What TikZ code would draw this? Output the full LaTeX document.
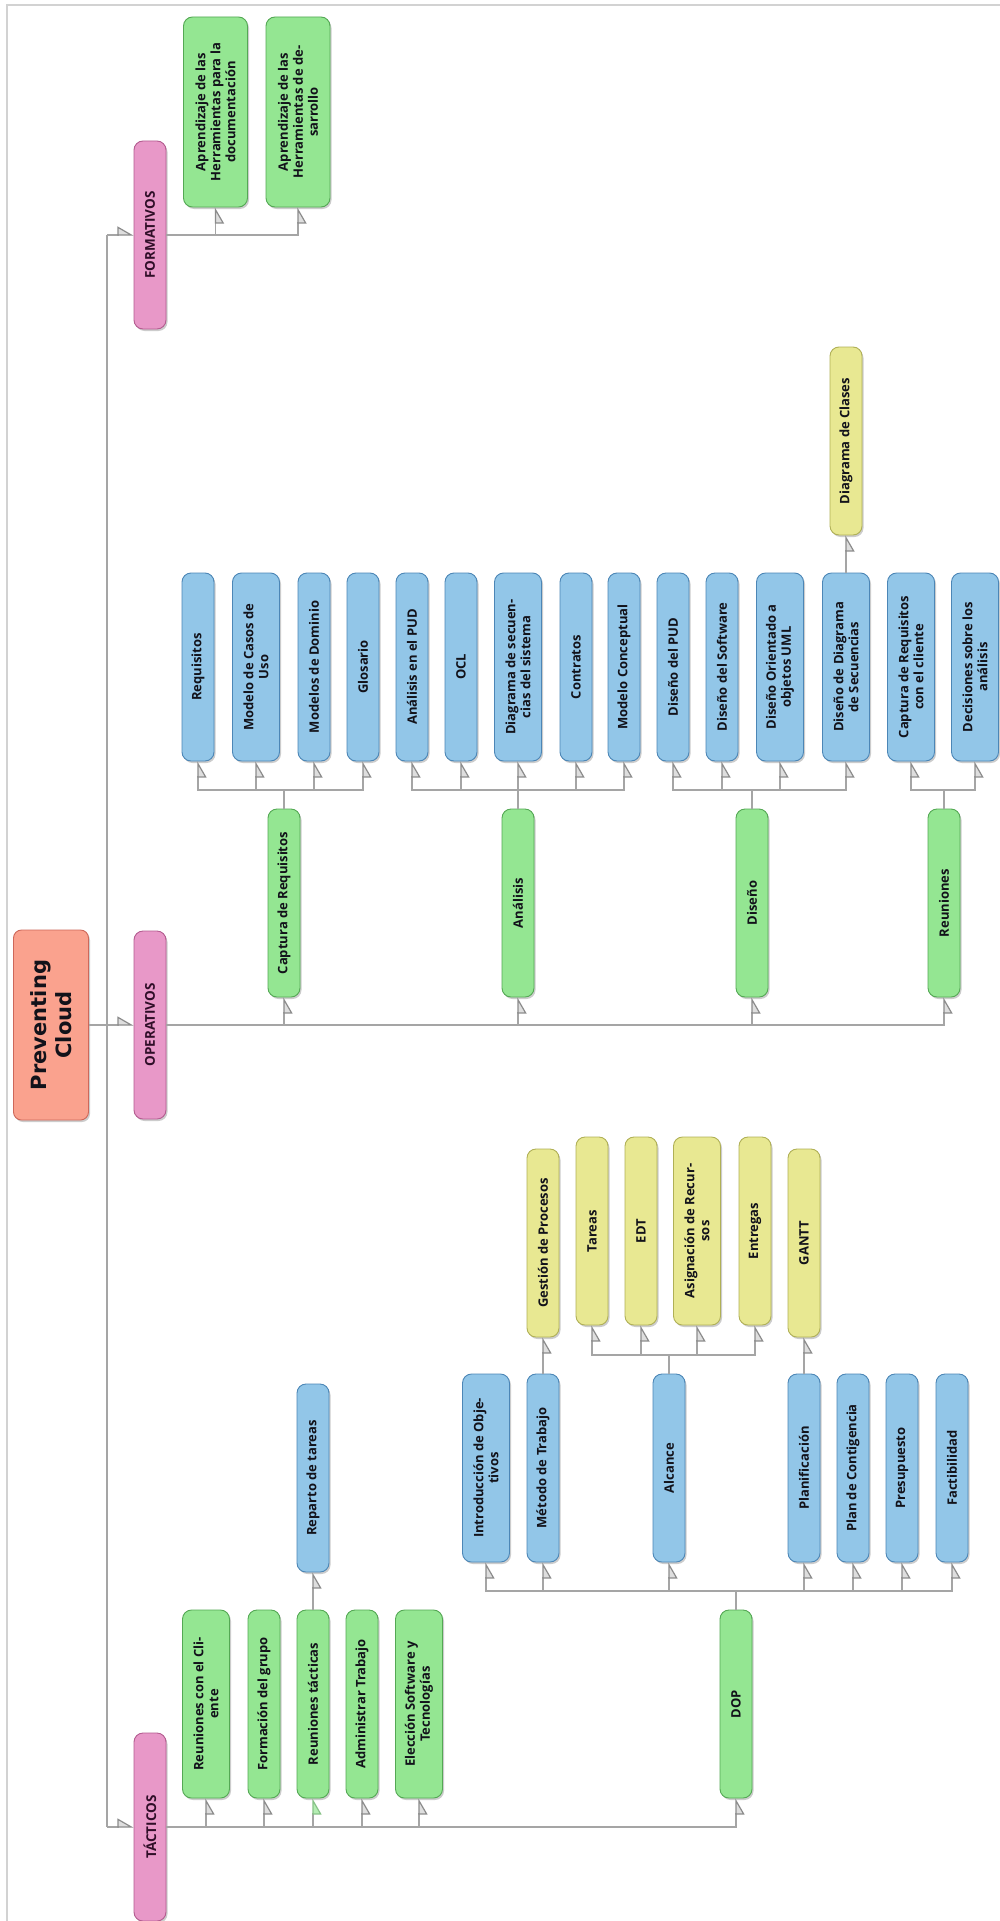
\documentclass[tikz,border=0pt]{standalone}
\usepackage{fontspec}
\setmainfont{Open Sans}
\newfontfamily\rootfont{DejaVu Sans}
\usepackage{xcolor}
\usetikzlibrary{positioning,arrows.meta,shadows}

\definecolor{rootfill}{RGB}{250,162,142}
\definecolor{rootline}{RGB}{206,104,90}
\definecolor{pinkfill}{RGB}{232,152,200}
\definecolor{pinkline}{RGB}{180,92,144}
\definecolor{pinktext}{RGB}{48,14,40}
\definecolor{greenfill}{RGB}{148,230,146}
\definecolor{greenline}{RGB}{84,168,84}
\definecolor{bluefill}{RGB}{146,198,232}
\definecolor{blueline}{RGB}{76,134,182}
\definecolor{yellowfill}{RGB}{232,232,146}
\definecolor{yellowline}{RGB}{176,176,86}
\definecolor{textdark}{RGB}{18,18,26}
\definecolor{linegray}{RGB}{165,165,165}
\definecolor{tipfill}{RGB}{222,222,222}
\definecolor{tipline}{RGB}{140,140,140}

\tikzset{
  box/.style={rounded corners=9pt, rotate=90, minimum width=188pt, minimum height=32pt,
    inner sep=2pt, align=center, line width=0.9pt, text=textdark,
    font=\fontsize{13}{15}\selectfont\bfseries,
    drop shadow={shadow xshift=1.5pt, shadow yshift=-2pt, opacity=.4}},
  two/.style={minimum height=47pt},
  three/.style={minimum height=64pt},
  rootbox/.style={box, fill=rootfill, draw=rootline, minimum width=190pt, minimum height=75pt,
    rounded corners=8pt, font=\rootfont\fontsize{21}{25}\selectfont\bfseries},
  catbox/.style={box, fill=pinkfill, draw=pinkline, text=pinktext,
    font=\fontsize{13.5}{15}\selectfont\bfseries},
  greenbox/.style={box, fill=greenfill, draw=greenline},
  bluebox/.style={box, fill=bluefill, draw=blueline},
  yellowbox/.style={box, fill=yellowfill, draw=yellowline},
  link/.style={draw=linegray, line width=1.2pt},
  arr/.style={link, -{Triangle[length=15pt, width=17pt, right, fill=tipfill, color=tipline]}},
  arrh/.style={link, -{Triangle[length=15pt, width=17pt, left, fill=tipfill, color=tipline]}},
}

\begin{document}
\begin{tikzpicture}[x=1pt, y=-1pt]
  \useasboundingbox (0,0) rectangle (1000,1921);
  \clip (0,0) rectangle (1000,1921);
  \fill[white] (0,0) rectangle (1000,1921);
  \draw[gray!35, line width=1.6pt] (7,1921) -- (7,5) -- (1000,5);

  % raiz y categorias
  \node[rootbox] (root) at (51,1025) {Preventing\\Cloud};
  \node[catbox] (form) at (150,235) {FORMATIVOS};
  \node[catbox] (oper) at (150,1025) {OPERATIVOS};
  \node[catbox] (tact) at (150,1827) {TÁCTICOS};

  % formativos
  \node[greenbox, three, minimum width=190pt] (apdoc) at (215.5,112) {Aprendizaje de las\\Herramientas para la\\documentación};
  \node[greenbox, three, minimum width=190pt] (apdes) at (298,112) {Aprendizaje de las\\Herramientas de de-\\sarrollo};

  % operativos
  \node[greenbox] (capt) at (284,903) {Captura de Requisitos};
  \node[greenbox] (anal) at (518,903) {Análisis};
  \node[greenbox] (dise) at (752,903) {Diseño};
  \node[greenbox] (reun) at (944,903) {Reuniones};

  \node[bluebox] (req) at (198,667) {Requisitos};
  \node[bluebox, two] (mcu) at (256,667) {Modelo de Casos de\\Uso};
  \node[bluebox] (mdom) at (314,667) {Modelos de Dominio};
  \node[bluebox] (glos) at (363,667) {Glosario};
  \node[bluebox] (apud) at (412,667) {Análisis en el PUD};
  \node[bluebox] (ocl) at (461,667) {OCL};
  \node[bluebox, two] (dss) at (518,667) {Diagrama de secuen-\\cias del sistema};
  \node[bluebox] (contr) at (576,667) {Contratos};
  \node[bluebox] (mcon) at (624,667) {Modelo Conceptual};
  \node[bluebox] (dpud) at (673,667) {Diseño del PUD};
  \node[bluebox] (dsoft) at (722,667) {Diseño del Software};
  \node[bluebox, two] (doo) at (780,667) {Diseño Orientado a\\objetos UML};
  \node[bluebox, two] (dds) at (846,667) {Diseño de Diagrama\\de Secuencias};
  \node[bluebox, two] (crc) at (911,667) {Captura de Requisitos\\con el cliente};
  \node[bluebox, two] (dsa) at (975,667) {Decisiones sobre los\\análisis};

  \node[yellowbox] (dclas) at (846,441) {Diagrama de Clases};

  % tacticos
  \node[greenbox, two] (rcli) at (206,1704) {Reuniones con el Cli-\\ente};
  \node[greenbox] (fgru) at (264,1704) {Formación del grupo};
  \node[greenbox] (rtac) at (313,1704) {Reuniones tácticas};
  \node[greenbox] (admt) at (362,1704) {Administrar Trabajo};
  \node[greenbox, two] (elec) at (419,1704) {Elección Software y\\Tecnologías};
  \node[greenbox] (dop) at (736,1704) {DOP};

  \node[bluebox] (repar) at (313,1478) {Reparto de tareas};

  \node[bluebox, two] (intro) at (486,1468) {Introducción de Obje-\\tivos};
  \node[bluebox] (metodo) at (543,1468) {Método de Trabajo};
  \node[bluebox] (alc) at (669,1468) {Alcance};
  \node[bluebox] (plan) at (804,1468) {Planificación};
  \node[bluebox] (pcont) at (853,1468) {Plan de Contigencia};
  \node[bluebox] (presu) at (902,1468) {Presupuesto};
  \node[bluebox] (fact) at (952,1468) {Factibilidad};

  \node[yellowbox] (gest) at (543,1243) {Gestión de Procesos};
  \node[yellowbox] (tareas) at (592,1231) {Tareas};
  \node[yellowbox] (edt) at (641,1231) {EDT};
  \node[yellowbox, two] (asig) at (697,1231) {Asignación de Recur-\\sos};
  \node[yellowbox] (entr) at (755,1231) {Entregas};
  \node[yellowbox] (gantt) at (804,1243) {GANTT};

  % conectores
  \coordinate (trunk) at (107,1025);
  \coordinate (fkO) at (0,790);
  \coordinate (fkD) at (0,1591);
  \coordinate (fkA) at (0,1355);

  \draw[link] (root) -- (trunk);
  \draw[link] (form -| trunk) -- (tact -| trunk);
  \draw[arrh] (form -| trunk) -- (form);
  \draw[arrh] (trunk) -- (oper);
  \draw[arrh] (tact -| trunk) -- (tact);

  \foreach \c in {apdoc,apdes} \draw[arr] (form) -| (\c);
  \foreach \c in {capt,anal,dise,reun} \draw[arr] (oper) -| (\c);
  \foreach \c in {req,mcu,mdom,glos} \draw[arr] (capt) |- (\c |- fkO) -- (\c);
  \foreach \c in {apud,ocl,dss,contr,mcon} \draw[arr] (anal) |- (\c |- fkO) -- (\c);
  \foreach \c in {dpud,dsoft,doo,dds} \draw[arr] (dise) |- (\c |- fkO) -- (\c);
  \foreach \c in {crc,dsa} \draw[arr] (reun) |- (\c |- fkO) -- (\c);
  \draw[arr] (dds) -- (dclas);

  \foreach \c in {rcli,fgru,admt,elec,dop} \draw[arr] (tact) -| (\c);
  \draw[link, -{Triangle[length=15pt, width=17pt, right, fill=greenfill!70, color=greenline!70]}] (tact) -| (rtac);
  \draw[arr] (rtac) -- (repar);
  \foreach \c in {intro,metodo,alc,plan,pcont,presu,fact} \draw[arr] (dop) |- (\c |- fkD) -- (\c);
  \draw[arr] (metodo) -- (gest);
  \foreach \c in {tareas,edt,asig,entr} \draw[arr] (alc) |- (\c |- fkA) -- (\c);
  \draw[arr] (plan) -- (gantt);
\end{tikzpicture}
\end{document}
